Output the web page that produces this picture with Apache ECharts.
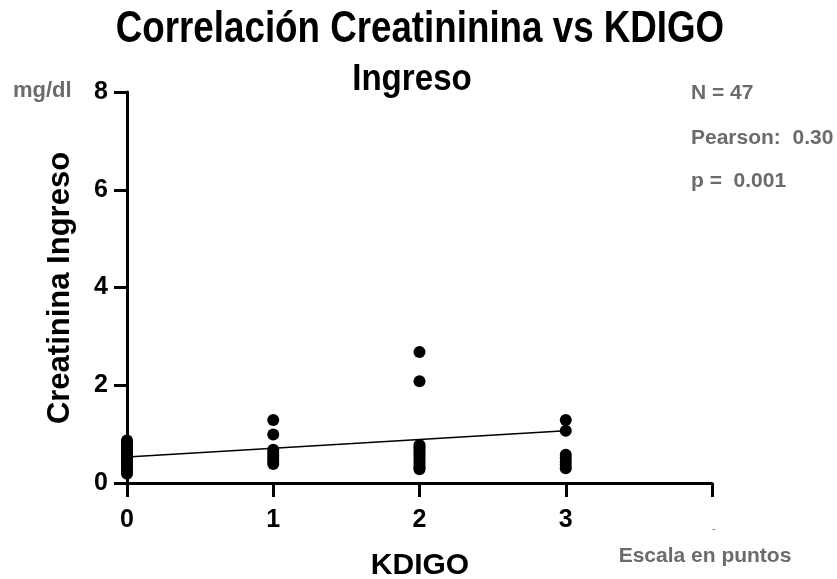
<!DOCTYPE html>
<html>
<head>
<meta charset="utf-8">
<script src="https://cdn.jsdelivr.net/npm/echarts@6/dist/echarts.min.js"></script>
<style>html,body{margin:0;padding:0;background:#fff;}#c{width:837px;height:579px;}</style>
</head>
<body>
<div id="c"></div>
<script>
var xTicks = [0, 1, 2, 3, 4];
var yTicks = [0, 2, 4, 6, 8];
var kdigo0 = [0.19, 0.24, 0.29, 0.34, 0.38, 0.42, 0.46, 0.5, 0.53, 0.57, 0.61, 0.64, 0.68, 0.72, 0.76, 0.8, 0.84, 0.87];
var kdigo1 = [1.29, 0.99, 0.68, 0.62, 0.56, 0.5, 0.44, 0.39];
var kdigo2 = [2.68, 2.08, 0.78, 0.74, 0.7, 0.65, 0.6, 0.56, 0.51, 0.46, 0.41, 0.36, 0.31, 0.28];
var kdigo3 = [1.29, 1.07, 0.58, 0.51, 0.44, 0.37, 0.3];
var fitX = [0, 3];
var fitY = [0.53, 1.07];
var titleText = 'Correlación Creatininina vs KDIGO';
var subtitleText = 'Ingreso';
var yName = 'Creatinina Ingreso';
var xName = 'KDIGO';
var stats = ['N = 47', 'Pearson:  0.30', 'p =  0.001'];
var unitText = 'mg/dl';
var scaleText = 'Escala en puntos';

var points = [];
[kdigo0, kdigo1, kdigo2, kdigo3].forEach(function (arr, k) {
  arr.forEach(function (v) { points.push([k, v]); });
});
var fit = fitX.map(function (x, i) { return [x, fitY[i]]; });

var gray = '#6b6b6b';
var sans = "'Liberation Sans', Arial, Helvetica, sans-serif";

var chart = echarts.init(document.getElementById('c'), null, {renderer: 'canvas'});
chart.setOption({
  backgroundColor: '#fff',
  animation: false,
  grid: {left: 127, top: 92, width: 585, height: 391, containLabel: false},
  xAxis: {
    type: 'value', min: xTicks[0], max: xTicks[xTicks.length - 1], interval: 1,
    axisLine: {lineStyle: {color: '#000', width: 3}},
    axisTick: {length: 14, lineStyle: {color: '#000', width: 3}},
    axisLabel: {
      margin: 25, color: '#000', fontSize: 25, fontWeight: 'bold', fontFamily: sans,
      formatter: function (v) { return v === 4 ? '' : String(v); }
    },
    splitLine: {show: false}
  },
  yAxis: {
    type: 'value', min: yTicks[0], max: yTicks[yTicks.length - 1], interval: 2,
    axisLine: {show: true, lineStyle: {color: '#000', width: 3}},
    axisTick: {show: true, length: 13, lineStyle: {color: '#000', width: 3}},
    axisLabel: {margin: 19, color: '#000', fontSize: 25, fontWeight: 'bold', fontFamily: sans},
    splitLine: {show: false}
  },
  series: [
    {type: 'scatter', data: points, symbol: 'circle', symbolSize: 12, itemStyle: {color: '#000', opacity: 1}, z: 3},
    {type: 'line', data: fit, symbol: 'none', lineStyle: {color: '#000', width: 1.5}, z: 2}
  ],
  graphic: [
    {type: 'text', x: 420, y: 30, scaleX: 0.835, style: {text: titleText, font: 'bold 44px ' + sans, fill: '#000', textAlign: 'center', textVerticalAlign: 'middle'}},
    {type: 'text', x: 412, y: 80, scaleX: 0.92, style: {text: subtitleText, font: 'bold 36px ' + sans, fill: '#000', textAlign: 'center', textVerticalAlign: 'middle'}},
    {type: 'text', x: 60, y: 288, rotation: Math.PI / 2, style: {text: yName, font: 'bold 31px ' + sans, fill: '#000', textAlign: 'center', textVerticalAlign: 'middle'}},
    {type: 'text', x: 420, y: 566, style: {text: xName, font: 'bold 30px ' + sans, fill: '#000', textAlign: 'center', textVerticalAlign: 'middle'}},
    {type: 'text', x: 13, y: 91, style: {text: unitText, font: 'bold 22px ' + sans, fill: gray, textAlign: 'left', textVerticalAlign: 'middle'}},
    {type: 'text', x: 691, y: 93, style: {text: stats[0], font: 'bold 21px ' + sans, fill: gray, textAlign: 'left', textVerticalAlign: 'middle'}},
    {type: 'text', x: 691, y: 138, style: {text: stats[1], font: 'bold 21px ' + sans, fill: gray, textAlign: 'left', textVerticalAlign: 'middle'}},
    {type: 'text', x: 691, y: 181, style: {text: stats[2], font: 'bold 21px ' + sans, fill: gray, textAlign: 'left', textVerticalAlign: 'middle'}},
    {type: 'text', x: 705, y: 556, style: {text: scaleText, font: 'bold 21px ' + sans, fill: gray, textAlign: 'center', textVerticalAlign: 'middle'}},
    {type: 'text', x: 714, y: 529, style: {text: '-', font: '10px ' + sans, fill: gray, textAlign: 'center', textVerticalAlign: 'middle'}}
  ]
});
</script>
</body>
</html>
